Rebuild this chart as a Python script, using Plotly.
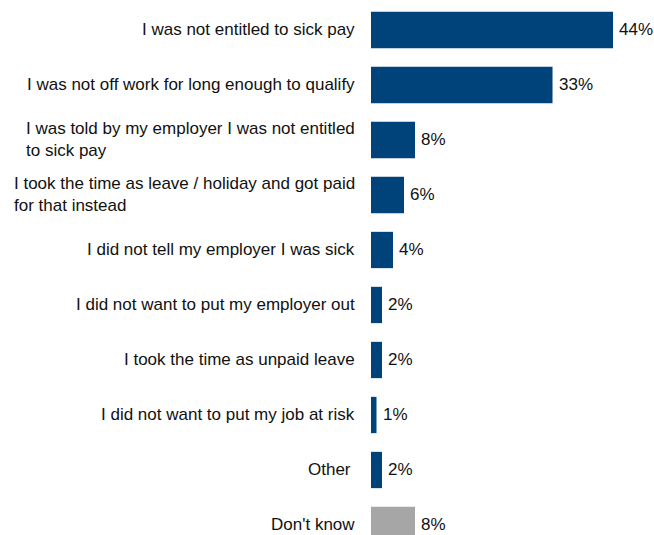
import plotly.graph_objects as go

categories = [
    "I was not entitled to sick pay",
    "I was not off work for long enough to qualify",
    "I was told by my employer I was not entitled<br>to sick pay",
    "I took the time as leave / holiday and got paid<br>for that instead",
    "I did not tell my employer I was sick",
    "I did not want to put my employer out",
    "I took the time as unpaid leave",
    "I did not want to put my job at risk",
    "Other",
    "Don't know",
]
values = [44, 33, 8, 6, 4, 2, 2, 1, 2, 8]
value_labels = ["44%", "33%", "8%", "6%", "4%", "2%", "2%", "1%", "2%", "8%"]

BLUE = "#00427A"
GREY = "#A6A6A6"
colors = [GREY if c == "Don't know" else BLUE for c in categories]
FONT = "Arial, Liberation Sans, sans-serif"
TEXT = "#111111"

fig = go.Figure(
    go.Bar(
        x=values,
        y=categories,
        orientation="h",
        marker=dict(color=colors, line=dict(width=0)),
        width=0.66,
        hoverinfo="x+y",
    )
)

# left-aligned category labels placed to the left of the bars
for cat in categories:
    label = cat + "\u00a0" if cat == "Other" else cat
    fig.add_annotation(
        x=0, xref="paper", xanchor="right", xshift=-14,
        y=cat, yref="y", yanchor="middle",
        text=label, align="left", showarrow=False,
        font=dict(family=FONT, size=17, color=TEXT),
    )

# value labels just past the end of each bar
for cat, v, lab in zip(categories, values, value_labels):
    fig.add_annotation(
        x=v, xref="x", xanchor="left", xshift=4,
        y=cat, yref="y", yanchor="middle",
        text=lab, showarrow=False,
        font=dict(family=FONT, size=17, color=TEXT),
    )

fig.update_layout(
    width=654, height=535,
    margin=dict(l=371, r=0, t=0, b=0),
    paper_bgcolor="white", plot_bgcolor="white",
    showlegend=False,
    xaxis=dict(range=[0, 51.45], visible=False),
    yaxis=dict(
        categoryorder="array", categoryarray=categories,
        range=[9.182, -0.545], showticklabels=False,
        showgrid=False, zeroline=False, showline=False, ticks="",
    ),
)

fig.write_html("out.html")
